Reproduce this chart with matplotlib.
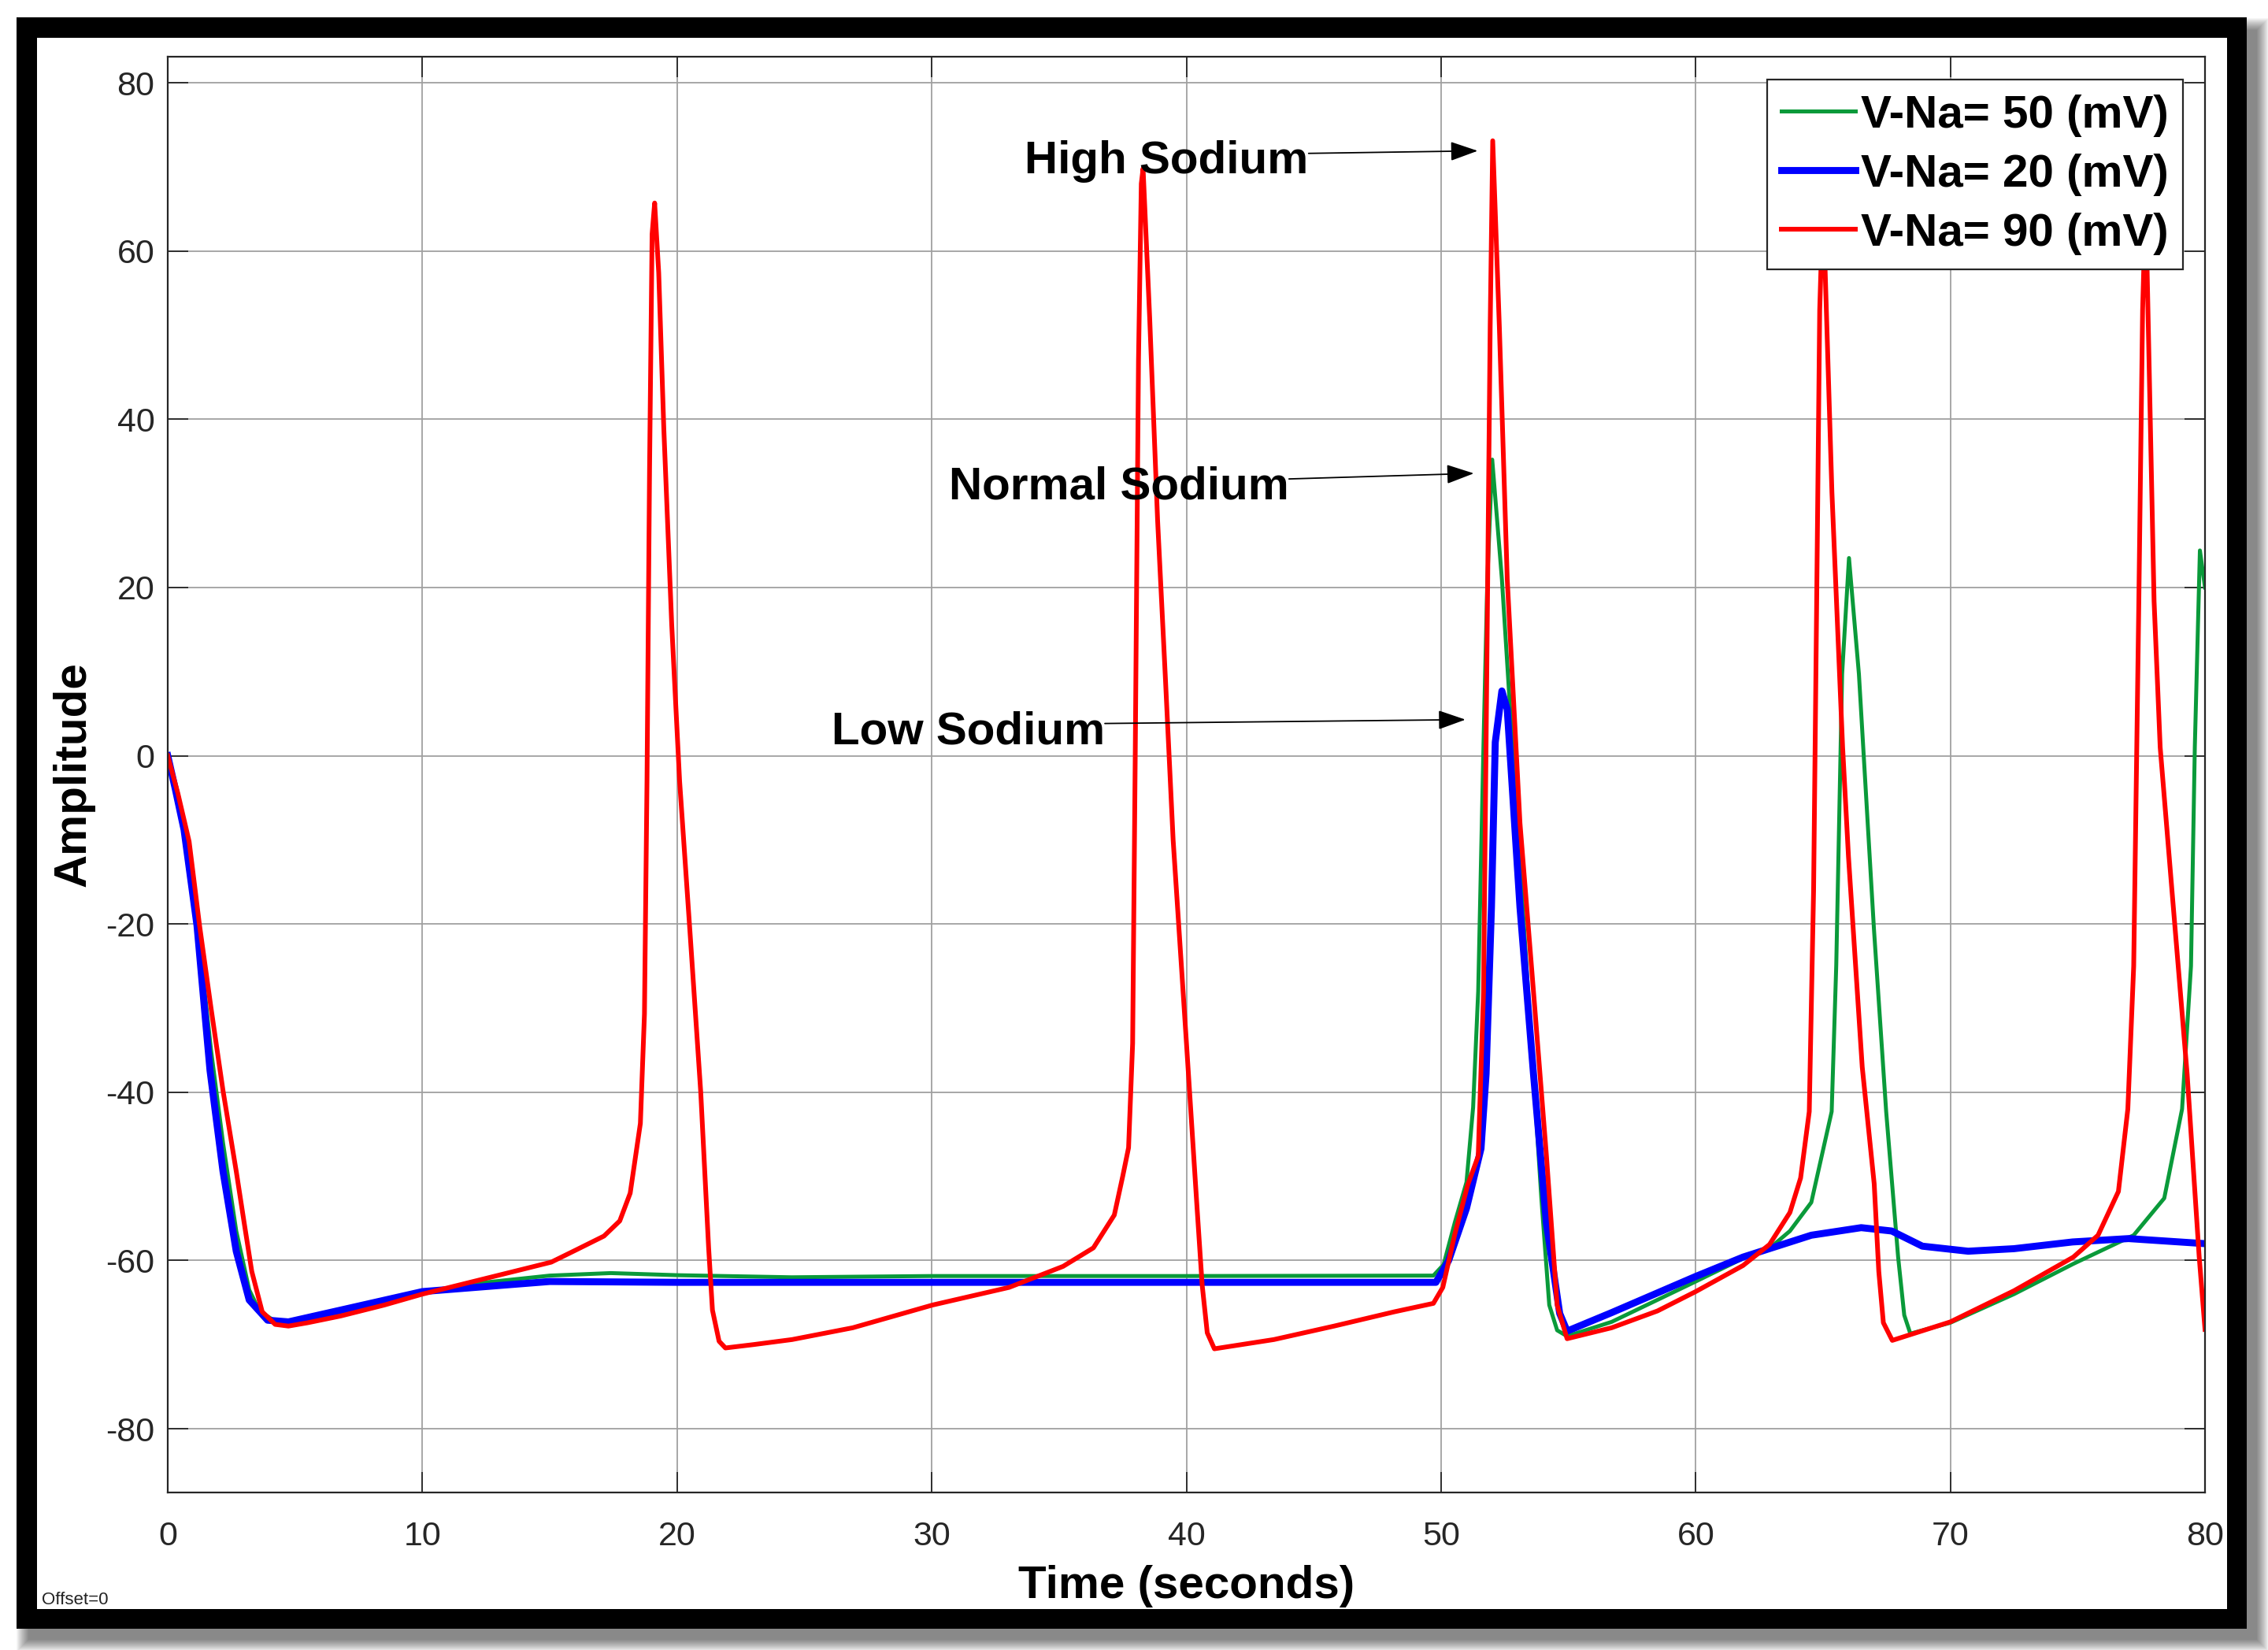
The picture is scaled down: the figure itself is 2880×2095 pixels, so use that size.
import matplotlib
matplotlib.use('Agg')
import matplotlib.pyplot as plt
from matplotlib.patches import Rectangle

plt.rcParams['font.family'] = ['Liberation Sans', 'DejaVu Sans']
plt.rcParams['axes.unicode_minus'] = False

W, H = 2880, 2095  # размер картинки в пикселях

# V-Na = 50 mV (зелёная)
t_green = [0, 0.4, 0.75, 1.2, 1.7, 2.17, 2.69, 3.2, 3.6, 4.2, 4.74, 6.79, 10, 12.5, 15,
           17.4, 20, 24.5, 30, 40, 49.7, 50.1, 50.54, 51.0, 51.26, 51.46, 51.67, 51.82,
           52.01, 52.39, 52.9, 53.42, 53.94, 54.25, 54.56, 54.95, 56.7, 60, 62.37, 63.0,
           63.7, 64.54, 65.34, 65.52, 65.75, 66.02, 66.41, 67.0, 67.48, 67.95, 68.19,
           68.43, 70, 72.5, 74.83, 77.2, 78.4, 79.1, 79.45, 79.6, 79.8, 80]
v_green = [0, -5.5, -10, -21, -35, -46, -56.5, -63.5, -66, -67.2, -67.4, -66.2, -63.8,
           -62.6, -61.8, -61.5, -61.75, -62, -61.85, -61.85, -61.8, -60.5, -55.5, -50.7,
           -41.8, -28, 1.6, 21, 35.2, 21, -3.4, -28, -52.6, -65.3, -68.3, -69, -67.3,
           -62.5, -59, -58.3, -56.5, -53.1, -42.3, -24.9, 9.7, 23.5, 9.7, -20.6, -42.3,
           -59.6, -66.5, -68.7, -67.4, -64, -60.4, -57, -52.6, -42, -25, 1, 24.4, 20]

# V-Na = 20 mV (синяя)
t_blue = [0, 0.3, 0.64, 1.15, 1.66, 2.17, 2.69, 3.2, 3.92, 4.74, 6.79, 10, 15, 20, 30,
          40, 49.8, 50.3, 51.0, 51.57, 51.77, 51.98, 52.13, 52.39, 52.6, 53.1, 53.63,
          54.14, 54.66, 54.95, 56.7, 60, 61.86, 64.54, 66.5, 67.7, 68.9, 70.7, 72.5,
          74.8, 77, 80]
v_blue = [0, -4, -8.8, -20.2, -37.4, -49.4, -58.9, -64.7, -67.1, -67.3, -65.9, -63.7,
          -62.5, -62.6, -62.6, -62.6, -62.6, -60, -53.8, -46.7, -37.8, -18, 1.6, 7.7,
          5.5, -18, -37.8, -55.6, -66.3, -68.4, -66.2, -61.9, -59.6, -57.0, -56.1,
          -56.5, -58.3, -58.9, -58.6, -57.8, -57.4, -58]

# V-Na = 90 mV (красная)
t_red = [0, 0.4, 0.84, 1.25, 1.7, 2.17, 2.69, 3.0, 3.3, 3.71, 4.22, 4.74, 5.5, 6.79,
         8.5, 10, 12, 14, 15.06, 16, 17.13, 17.75, 18.16, 18.56, 18.72, 18.82, 18.92,
         19.02, 19.12, 19.28, 19.48, 19.79, 20.1, 20.52, 20.93, 21.24, 21.39, 21.65,
         21.9, 23, 24.52, 26.9, 30.03, 33.04, 35.16, 36.35, 37.17, 37.5, 37.73, 37.89,
         37.99, 38.12, 38.23, 38.3, 38.56, 38.87, 39.18, 39.48, 40.0, 40.41, 40.62,
         40.82, 41.1, 43.44, 45.8, 48.17, 49.7, 50.07, 50.54, 51.05, 51.46, 51.67,
         51.77, 51.93, 52.03, 52.29, 52.6, 53.1, 53.63, 54.14, 54.56, 54.95, 56.7,
         58.5, 60, 61.86, 62.9, 63.7, 64.12, 64.46, 64.63, 64.75, 64.87, 65.0, 65.35,
         65.77, 66.0, 66.54, 67.01, 67.19, 67.37, 67.72, 70, 72.5, 74.83, 75.8, 76.6,
         76.97, 77.2, 77.4, 77.55, 77.67, 78.0, 78.24, 78.71, 79.3, 79.77, 80]
v_red = [0, -4.5, -10.2, -20.2, -30, -39.8, -49.4, -55.5, -61.3, -66.1, -67.6, -67.8,
         -67.4, -66.6, -65.3, -64, -62.5, -61, -60.2, -58.8, -57.1, -55.3, -52, -43.7,
         -30.7, -3, 34, 62, 65.7, 57.4, 38.9, 15.6, -3, -21.5, -40, -58.5, -65.9,
         -69.6, -70.4, -70.0, -69.4, -68, -65.3, -63.2, -60.7, -58.5, -54.6, -50,
         -46.6, -34.2, -0.7, 47, 68, 69.8, 52, 28, 9, -10, -34, -53.3, -62.9, -68.6,
         -70.5, -69.4, -67.8, -66.1, -65.1, -63.2, -56.9, -51, -47.6, -28, 1.6, 51,
         73.1, 51, 21, -8, -28, -47.6, -65.3, -69.3, -68, -66, -63.7, -60.6, -58.1,
         -54.3, -50.2, -42.3, -16, 18, 53, 66, 31.3, 1.0, -12, -37, -50.9, -61.3,
         -67.4, -69.5, -67.3, -63.6, -59.6, -57, -51.8, -42, -25, 18, 53, 66, 18.4, 1,
         -16.3, -37.9, -59.5, -68.2]

labels = ['V-Na= 50 (mV)', 'V-Na= 20 (mV)', 'V-Na= 90 (mV)']
x_ticks = [0, 10, 20, 30, 40, 50, 60, 70, 80]
y_ticks = [-80, -60, -40, -20, 0, 20, 40, 60, 80]


def fbox(x0, y0, x1, y1):  # пиксели (сверху вниз) -> доли фигуры
    return x0 / W, 1 - y1 / H, (x1 - x0) / W, (y1 - y0) / H


fig = plt.figure(figsize=(W / 100, H / 100), dpi=100, facecolor='white')

# тень под рамкой
for i in range(16):
    x, y, w, h = fbox(36 - i, 38 - i, 2866 + i, 2082 + i)
    fig.patches.append(Rectangle((x, y), w, h, transform=fig.transFigure,
                                 facecolor='#000000', alpha=0.035, lw=0, zorder=-12))
x, y, w, h = fbox(21, 22, 2853, 2068)
fig.patches.append(Rectangle((x, y), w, h, transform=fig.transFigure,
                             facecolor='black', lw=0, zorder=-11))
x, y, w, h = fbox(47, 48, 2828, 2043)
fig.patches.append(Rectangle((x, y), w, h, transform=fig.transFigure,
                             facecolor='white', lw=0, zorder=-10))

ax = fig.add_axes([213 / W, 1 - 1895 / H, 2587 / W, 1823 / H])
ax.set_facecolor('white')

ax.plot(t_green, v_green, color='#0a9a3a', lw=3.6, label=labels[0], solid_joinstyle='round')
ax.plot(t_blue, v_blue, color='#0000ff', lw=6.4, label=labels[1], solid_joinstyle='round')
ax.plot(t_red, v_red, color='#ff0000', lw=4.3, label=labels[2], solid_joinstyle='round')

ax.set_xlim(0, 80)
ax.set_ylim(-87.58, 83.09)
ax.set_xticks(x_ticks)
ax.set_yticks(y_ticks)
ax.grid(True, color='#a0a0a0', lw=1.3)
ax.set_axisbelow(True)

for s in ax.spines.values():
    s.set_color('#262626')
    s.set_linewidth(1.6)
ax.tick_params(axis='both', direction='in', length=19, width=1.3, colors='#262626',
               labelsize=31, top=True, right=True)
ax.tick_params(axis='x', pad=26)
ax.tick_params(axis='y', pad=12)

ax.set_xlabel('Time (seconds)', fontsize=42, fontweight='bold', color='black')
ax.xaxis.set_label_coords(0.5, -0.0505)
ax.set_ylabel('Amplitude', fontsize=42, fontweight='bold', color='black')
ax.yaxis.set_label_coords(-0.0359, 0.5)

leg = ax.legend(loc='upper right', bbox_to_anchor=(0.9892, 0.9841), borderaxespad=0,
                prop={'weight': 'bold', 'size': 42}, handlelength=1.6, handletextpad=0.12,
                labelspacing=0.36, borderpad=0.32, fancybox=False, framealpha=1)
leg.get_frame().set_edgecolor('#262626')
leg.get_frame().set_linewidth(1.6)

# подписи со стрелками
notes = [('High Sodium', (44.8, 71.6), (51.44, 71.9), 69.2),
         ('Normal Sodium', (44.03, 32.9), (51.29, 33.56), 30.5),
         ('Low Sodium', (36.8, 3.83), (50.96, 4.29), 1.44)]
for txt, start, end, base in notes:
    ax.text(start[0], base, txt, fontsize=42, fontweight='bold', ha='right', va='baseline')
    ax.annotate('', xy=end, xytext=start,
                arrowprops=dict(arrowstyle='-|>,head_length=1.08,head_width=0.38',
                                color='black', lw=1.3, shrinkA=0, shrinkB=0,
                                mutation_scale=20))

fig.text(53 / W, 1 - 2037 / H, 'Offset=0', fontsize=16, va='baseline', color='#222222')

fig.savefig('out.png', dpi=100, facecolor=fig.get_facecolor())
